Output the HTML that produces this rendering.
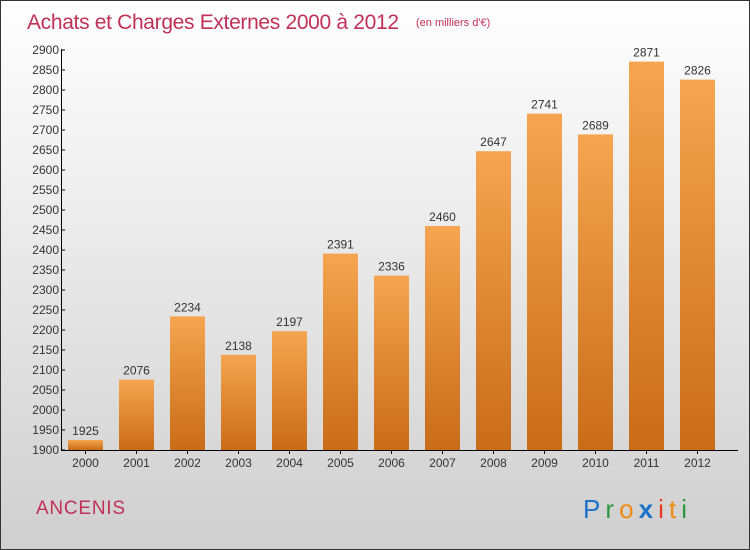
<!DOCTYPE html>
<html><head><meta charset="utf-8"><style>
body{margin:0}
#c{width:748px;height:548px;border:1px solid #333;background:linear-gradient(#ffffff,#cfcfcf);position:relative;font-family:"Liberation Sans",sans-serif;overflow:hidden}
</style></head><body>
<div id="c">
<svg id="s" width="748" height="548" xmlns="http://www.w3.org/2000/svg" font-family="Liberation Sans, sans-serif">
<defs>
<linearGradient id="g" x1="0" y1="0" x2="0" y2="1"><stop offset="0" stop-color="#f5a550"/><stop offset="1" stop-color="#c96c18"/></linearGradient>
</defs>
<text x="26" y="28" font-size="21" fill="#c03058" textLength="372">Achats et Charges Externes 2000 à 2012</text>
<text x="415" y="25" font-size="11" fill="#c03058">(en milliers d'€)</text>
<text x="35" y="513" font-size="19" fill="#c03058" textLength="89">ANCENIS</text>
<text x="582" y="517" font-size="26" textLength="104" lengthAdjust="spacing"><tspan fill="#1a73c8">P</tspan><tspan fill="#2a9a3a">r</tspan><tspan fill="#f08a10">o</tspan><tspan fill="#1a73c8" font-weight="bold">x</tspan><tspan fill="#e83a20">i</tspan><tspan fill="#f08a10">t</tspan><tspan fill="#2a9a3a">i</tspan></text>
<g id="plot"></g>
</svg></div>
<script>
const years=["2000","2001","2002","2003","2004","2005","2006","2007","2008","2009","2010","2011","2012"];
const values=[1925,2076,2234,2138,2197,2391,2336,2460,2647,2741,2689,2871,2826];
const yTicks=[1900,1950,2000,2050,2100,2150,2200,2250,2300,2350,2400,2450,2500,2550,2600,2650,2700,2750,2800,2850,2900];
const NS="http://www.w3.org/2000/svg";
const p=document.getElementById('plot');
const y=v=>449-(v-1900)*0.4;
const x=i=>84.5+51*i;
function mk(t,a,txt){const e=document.createElementNS(NS,t);for(const k in a)e.setAttribute(k,a[k]);if(txt!=null)e.textContent=txt;p.appendChild(e);return e;}
values.forEach((v,i)=>{
 const r=mk('rect',{x:x(i)-17.5,y:y(v),width:35,height:449-y(v),fill:'url(#g)'});
 
 
 const t=mk('text',{x:x(i),y:y(v)-5,'font-size':12,fill:'#333','text-anchor':'middle'},String(v));
 
 
 const xl=mk('text',{x:x(i),y:466,'font-size':12,fill:'#333','text-anchor':'middle'},years[i]);
 
 
 mk('line',{x1:x(i),x2:x(i),y1:449,y2:453,stroke:'#000'});
});
yTicks.forEach(v=>{
 mk('line',{x1:60,x2:64,y1:y(v),y2:y(v),stroke:'#000'});
 const t=mk('text',{x:58,y:y(v)+4,'font-size':12,fill:'#333','text-anchor':'end'},String(v));
 
 
});
const ya=mk('line',{x1:60.5,x2:60.5,y1:y(2900)-1,y2:449.5,stroke:'#000'});


const xa=mk('line',{x1:60,x2:737,y1:449.5,y2:449.5,stroke:'#000'});


</script>
</body></html>
